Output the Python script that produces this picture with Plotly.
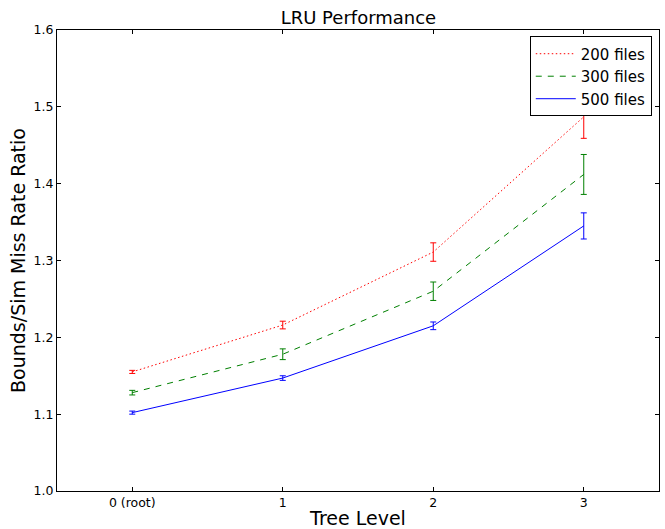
import plotly.graph_objects as go

levels = [0, 1, 2, 3]
tick_labels = ["0 (root)", "1", "2", "3"]

s200 = [1.155, 1.216, 1.311, 1.487]
e200 = [0.002, 0.005, 0.012, 0.028]
s300 = [1.128, 1.178, 1.260, 1.412]
e300 = [0.003, 0.007, 0.012, 0.026]
s500 = [1.102, 1.147, 1.215, 1.345]
e500 = [0.002, 0.003, 0.005, 0.017]

series = [
    ("200 files", s200, e200, "#ff0000", "1.5px,2.5px"),
    ("300 files", s300, e300, "#008000", "6px,6px"),
    ("500 files", s500, e500, "#0000ff", "solid"),
]

fig = go.Figure()
for name, ys, es, col, dash in series:
    fig.add_trace(go.Scatter(
        x=levels, y=ys, name=name, mode="lines",
        line=dict(color=col, dash=dash, width=1),
        error_y=dict(type="data", array=es, visible=True, color=col, thickness=1, width=3),
    ))

font = "DejaVu Sans"
fig.update_layout(
    width=665, height=529,
    margin=dict(l=57, r=6, t=30, b=38, autoexpand=False),
    paper_bgcolor="white", plot_bgcolor="white",
    font=dict(family=font, color="black"),
    title=dict(text="LRU Performance", x=0.539, xanchor="center", y=0.966, yanchor="middle",
               font=dict(size=18, family=font), automargin=False),
    showlegend=True,
    legend=dict(x=0.988, xanchor="right", y=0.986, yanchor="top",
                bordercolor="black", borderwidth=1, bgcolor="white",
                font=dict(size=15, family=font), tracegroupgap=0, itemwidth=40),
    xaxis=dict(range=[-0.5, 3.5], tickvals=levels, ticktext=tick_labels, automargin=False,
               showgrid=False, zeroline=False, showline=True, linecolor="black", linewidth=1,
               mirror="allticks", ticks="inside", ticklen=4, tickcolor="black",
               tickfont=dict(size=12.5, family=font),
               title=dict(text="Tree Level", font=dict(size=19, family=font), standoff=2)),
    yaxis=dict(range=[1.0, 1.6], tickvals=[1.0, 1.1, 1.2, 1.3, 1.4, 1.5, 1.6],
               ticktext=["1.0", "1.1", "1.2", "1.3", "1.4", "1.5", "1.6"], automargin=False,
               showgrid=False, zeroline=False, showline=True, linecolor="black", linewidth=1,
               mirror="allticks", ticks="inside", ticklen=4, tickcolor="black",
               tickfont=dict(size=12.5, family=font),
               title=dict(text="Bounds/Sim Miss Rate Ratio", font=dict(size=19, family=font), standoff=2)),
)

fig.write_html("out.html", config={"displayModeBar": False},
               post_script="document.body.style.margin='0';")
